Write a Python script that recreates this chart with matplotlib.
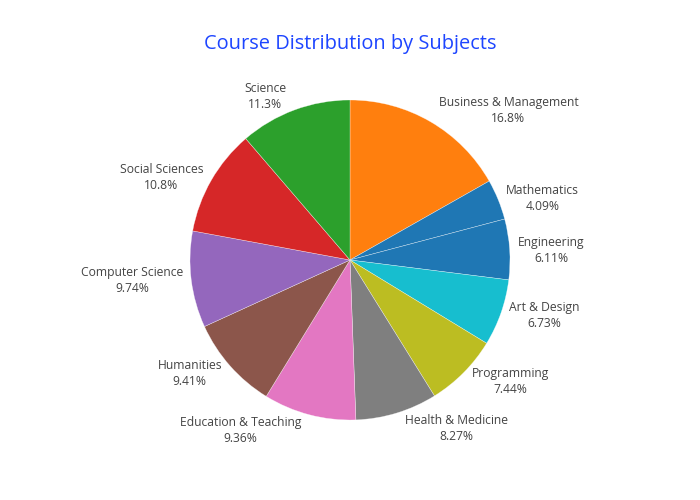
import matplotlib
matplotlib.use("Agg")
import matplotlib.pyplot as plt
import numpy as np

# Slice order, clockwise from 12 o'clock
subjects = ['Business & Management', 'Mathematics', 'Engineering', 'Art & Design',
            'Programming', 'Health & Medicine', 'Education & Teaching', 'Humanities',
            'Computer Science', 'Social Sciences', 'Science']
shares = [16.8, 4.09, 6.11, 6.73, 7.44, 8.27, 9.36, 9.41, 9.74, 10.8, 11.3]
slice_colors = ['#ff7f0e', '#1f77b4', '#1f77b4', '#17becf', '#bcbd22', '#7f7f7f',
                '#e377c2', '#8c564b', '#9467bd', '#d62728', '#2ca02c']

plt.rcParams['font.family'] = ['Open Sans', 'DejaVu Sans']

fig = plt.figure(figsize=(7, 5), dpi=100)
# pie radius 1 -> 160 px, centre at (350, 260) px from top-left
ax = fig.add_axes([150 / 700, 40 / 500, 400 / 700, 400 / 500])

wedges, _ = ax.pie(shares, colors=slice_colors, startangle=90, counterclock=False,
                   radius=1.0,
                   wedgeprops=dict(edgecolor=(1, 1, 1, 0.6), linewidth=0.35))
ax.set_xlim(-1.25, 1.25)
ax.set_ylim(-1.25, 1.25)
ax.set_aspect('equal')
ax.axis('off')

total = sum(shares)
half_h = 11.5  # half height of a two-line label, in points
for w, name, val in zip(wedges, subjects, shares):
    mid = np.deg2rad((w.theta1 + w.theta2) / 2)
    cx, sy = np.cos(mid), np.sin(mid)
    side = 1 if cx >= 0 else -1
    dx = side * half_h / 2
    dy = np.sign(sy) * half_h * sy ** 2 - 0.7
    ax.annotate(f"{name}\n{val / total * 100:.3g}%", xy=(cx, sy),
                xytext=(dx, dy), textcoords='offset points',
                ha='left' if side > 0 else 'right', va='center',
                multialignment='center', fontsize=8.7, color='#444444',
                linespacing=1.3, annotation_clip=False)

fig.text(0.5, 1 - 44 / 500, 'Course Distribution by Subjects', ha='center', va='center',
         fontsize=14.4, color='#1d45ff')

fig.savefig('out.png', dpi=100)
